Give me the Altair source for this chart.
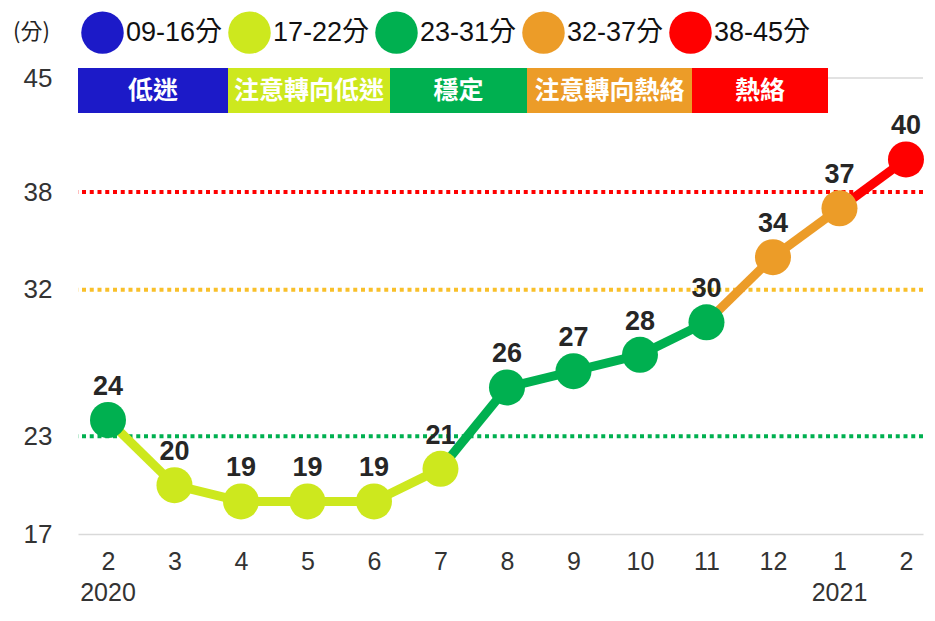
import altair as alt
import pandas as pd

# ---------------- data ----------------
months = ["2", "3", "4", "5", "6", "7", "8", "9", "10", "11", "12", "1", "2"]
years = ["2020", "", "", "", "", "", "", "", "", "", "", "2021", ""]
scores = [24, 20, 19, 19, 19, 21, 26, 27, 28, 30, 34, 37, 40]

cat_labels = ["09-16分", "17-22分", "23-31分", "32-37分", "38-45分"]
cat_lows = [9, 17, 23, 32, 38]
cat_colors = ["#1c1ac8", "#cde81e", "#00b050", "#ec9c28", "#ff0000"]
band_labels = ["低迷", "注意轉向低迷", "穩定", "注意轉向熱絡", "熱絡"]

thresholds = [23, 32, 38]
threshold_colors = ["#00b050", "#f9c02a", "#ff0000"]
y_ticks = [17, 23, 32, 38, 45]

# ---------------- layout (pixels) ----------------
W, H = 845, 456
band_edges_px = [0, 150, 312, 449, 614, 750]
FONT = "Liberation Sans, Arial, Noto Sans CJK TC, sans-serif"
CJK = "Noto Sans CJK TC, sans-serif"


def category(v):
    c = cat_labels[0]
    for lo, lab in zip(cat_lows, cat_labels):
        if v >= lo:
            c = lab
    return c


color_of = dict(zip(cat_labels, cat_colors))
idx = list(range(len(scores)))
pts = pd.DataFrame({"i": idx, "score": scores, "cat": [category(v) for v in scores]})
segs = pd.DataFrame({
    "x0": idx[:-1], "x1": idx[1:],
    "y0": scores[:-1], "y1": scores[1:],
    "hex": [color_of[category(v)] for v in scores[1:]],
})
yr = pd.DataFrame({"i": idx, "year": years})
yr = yr[yr["year"] != ""]
bands = pd.DataFrame({
    "x0": band_edges_px[:-1], "x1": band_edges_px[1:],
    "label": band_labels, "fillc": cat_colors,
})
bands["xc"] = (bands["x0"] + bands["x1"]) / 2

xscale = alt.Scale(domain=[-0.451, len(scores) - 1 + 0.256], nice=False, zero=False)
yscale = alt.Scale(domain=[y_ticks[0], y_ticks[-1]], nice=False, zero=False)
cscale = alt.Scale(domain=cat_labels, range=cat_colors)

label_js = "[" + ",".join("'%s'" % m for m in months) + "]"

xaxis = alt.Axis(values=idx, labelExpr=label_js + "[datum.value]", title=None,
                 ticks=False, grid=False, domainColor="#d9d9d9", domainWidth=1.5,
                 labelFontSize=25, labelColor="#333333", labelFont=FONT,
                 labelPadding=15, labelFlush=False, labelOverlap=False)
yaxis = alt.Axis(values=y_ticks, title=None, ticks=False, grid=False, domain=False,
                 labelFontSize=26, labelColor="#333333", labelFont=FONT,
                 labelPadding=26)

base = alt.Chart(pts)

# top gridline
topline = alt.Chart(pd.DataFrame({"y": [y_ticks[-1]]})).mark_rule(
    color="#d9d9d9", strokeWidth=1.5).encode(y=alt.Y("y:Q", scale=yscale, axis=yaxis))

# dotted threshold lines
thr_layers = []
for t, c in zip(thresholds, threshold_colors):
    thr_layers.append(
        alt.Chart(pd.DataFrame({"y": [t]})).mark_rule(
            color=c, strokeWidth=4, strokeDash=[4, 3.75]).encode(y=alt.Y("y:Q", scale=yscale))
    )

seg_layer = alt.Chart(segs).mark_rule(strokeWidth=9).encode(
    x=alt.X("x0:Q", scale=xscale, axis=xaxis),
    x2="x1:Q",
    y=alt.Y("y0:Q", scale=yscale),
    y2="y1:Q",
    stroke=alt.Stroke("hex:N", scale=None),
)

pt_layer = base.mark_circle(size=1296, opacity=1).encode(
    x=alt.X("i:Q", scale=xscale),
    y=alt.Y("score:Q", scale=yscale),
    color=alt.Color("cat:N", scale=cscale, legend=alt.Legend(
        title="(分)", titleOrient="left", titleFontSize=22, titleFontWeight="normal",
        titleFont=CJK, titleColor="#222222", titlePadding=31, titleBaseline="middle",
        orient="none", legendX=-65, legendY=-67, direction="horizontal",
        symbolType="circle", symbolSize=1806, symbolStrokeWidth=0, symbolOpacity=1,
        labelFontSize=27, labelFont=FONT, labelColor="#111111", labelOffset=2,
        columnPadding=5, labelLimit=300, padding=0)),
)

lbl_layer = base.mark_text(fontSize=27, fontWeight="bold", font=FONT, color="#262626",
                           baseline="alphabetic", dy=-25).encode(
    x=alt.X("i:Q", scale=xscale),
    y=alt.Y("score:Q", scale=yscale),
    text="score:Q",
)

year_layer = alt.Chart(yr).mark_text(fontSize=25, font=FONT, color="#333333",
                                     baseline="alphabetic").encode(
    x=alt.X("i:Q", scale=xscale),
    y=alt.value(523),
    text="year:N",
)

band_rect = alt.Chart(bands).mark_rect().encode(
    x=alt.X("x0:Q", scale=None), x2="x1:Q",
    y=alt.value(-10), y2=alt.value(35),
    fill=alt.Fill("fillc:N", scale=None),
)
band_text = alt.Chart(bands).mark_text(fontSize=25, fontWeight="bold", font=CJK,
                                       color="white", baseline="middle").encode(
    x=alt.X("xc:Q", scale=None),
    y=alt.value(13),
    text="label:N",
)

chart = alt.layer(topline, *thr_layers, seg_layer, pt_layer, lbl_layer, year_layer,
                  band_rect, band_text).properties(
    width=W, height=H,
    autosize=alt.AutoSizeParams(type="none"),
    padding={"left": 70, "top": 70, "right": 2, "bottom": 73},
).configure_view(stroke=None)

chart.save("out.html", embed_options={"renderer": "svg", "actions": False})
